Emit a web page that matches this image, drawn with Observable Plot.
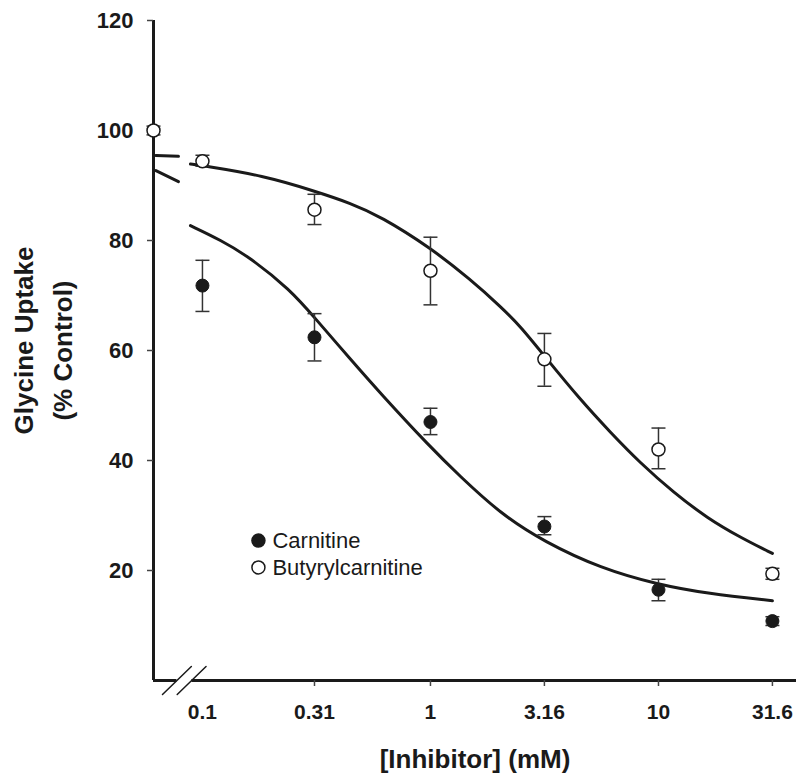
<!DOCTYPE html>
<html><head><meta charset="utf-8">
<script src="https://cdn.jsdelivr.net/npm/d3@7"></script>
<script src="https://cdn.jsdelivr.net/npm/@observablehq/plot@0.6"></script>
<style>body{margin:0;background:#fff} #chart{width:796px;height:779px}</style>
</head><body><div id="chart"></div>
<script>
// Concentrations (mM) and tick labels
const conc = [0.1, 0.31, 1, 3.16, 10, 31.6];
const concLabels = ["0.1", "0.31", "1", "3.16", "10", "31.6"];
const yTicks = [20, 40, 60, 80, 100, 120];
const controlConc = 0.061; // control (no inhibitor) plotted at axis origin

// Carnitine (filled)
const carnitineMean = [71.8, 62.4, 47.0, 28.0, 16.5, 10.8];
const carnitineLow  = [67.1, 58.1, 44.7, 26.5, 14.5, 10.0];
const carnitineHigh = [76.4, 66.7, 49.5, 29.8, 18.4, 11.6];

// Butyrylcarnitine (open)
const butyrylMean = [94.4, 85.6, 74.5, 58.4, 42.0, 19.4];
const butyrylLow  = [93.5, 82.9, 68.3, 53.5, 38.5, 18.4];
const butyrylHigh = [95.5, 88.4, 80.6, 63.1, 45.9, 20.4];

// Control
const controlMean = 100, controlLow = 99.2, controlHigh = 100.8;

// Fitted curves
const butyrylFitX = [0.0886, 0.1, 0.185, 0.31, 0.446, 0.6035, 1, 1.497, 2.03, 2.481, 3.16, 4.55, 6.16, 8.34, 11.64, 16.4, 22.9, 31.6];
const butyrylFitY = [93.9, 93.6, 91.8, 89.0, 86.8, 84.4, 78.7, 72.9, 68.0, 64.4, 59.0, 51.0, 45.1, 39.5, 34.2, 29.5, 26.0, 23.1];
const carnitineFitX = [0.0886, 0.12, 0.162, 0.243, 0.31, 0.446, 0.6035, 1, 1.327, 2.03, 3.16, 5.57, 10, 16.4, 31.6];
const carnitineFitY = [82.7, 80.1, 76.9, 71.0, 66.0, 58.4, 52.2, 42.4, 37.4, 30.3, 25.2, 20.4, 17.4, 15.8, 14.5];

// Short curve fragments next to the y axis
const fragX = [0.0625, 0.0785];
const upperFragY = [95.45, 95.3];
const lowerFragY = [92.7, 90.7];

// Axis break on x
const break1X = [0.0668, 0.0894];
const break2X = [0.0775, 0.1037];
const breakY = [-2.55, 2.55];
const axisSeg1 = [0.061, 0.0773];
const axisSeg2 = [0.0899, 40.3];

// Legend
const legendNames = ["Carnitine", "Butyrylcarnitine"];
const legendX = 0.176;
const legendY = [25.45, 20.55];

const toRows = (xs, m, lo, hi) => xs.map((x, i) => ({x, y: m[i], lo: lo[i], hi: hi[i]}));
const carn = toRows(conc, carnitineMean, carnitineLow, carnitineHigh);
const buty = toRows(conc, butyrylMean, butyrylLow, butyrylHigh);
const ctrl = [{x: controlConc, y: controlMean, lo: controlLow, hi: controlHigh}];
const allErr = [...carn, ...buty, ...ctrl];
const pts = (xs, ys) => xs.map((x, i) => ({x, y: ys[i]}));

const cap = {draw(ctx) { ctx.moveTo(-7, 0); ctx.lineTo(7, 0); }};
const ink = "#1a1a1a";
const font = "'Liberation Sans', Arial, sans-serif";

const chart = Plot.plot({
  width: 796, height: 779,
  marginLeft: 153, marginRight: 0, marginTop: 20, marginBottom: 99,
  x: {type: "log", domain: [0.061, 40.3]},
  y: {domain: [0, 120]},
  style: {fontFamily: font, background: "#fff", color: ink},
  marks: [
    // axes lines
    Plot.ruleX([0.061], {y1: 0, y2: 120, stroke: ink, strokeWidth: 3}),
    Plot.ruleY([0], {x1: axisSeg1[0], x2: axisSeg1[1], stroke: ink, strokeWidth: 3}),
    Plot.ruleY([0], {x1: axisSeg2[0], x2: axisSeg2[1], stroke: ink, strokeWidth: 3}),
    Plot.line(pts(break1X, breakY), {x: "x", y: "y", stroke: ink, strokeWidth: 1.5, clip: false}),
    Plot.line(pts(break2X, breakY), {x: "x", y: "y", stroke: ink, strokeWidth: 1.5, clip: false}),
    // axes ticks & labels
    Plot.axisY({ticks: yTicks, tickSize: 6, tickPadding: 14, fontSize: 22, fontWeight: "bold", label: null, stroke: "#444", strokeWidth: 1.5, fill: ink}),
    Plot.axisX({ticks: conc, tickFormat: d => concLabels[conc.indexOf(d)], tickSize: 0, tickPadding: 24, fontSize: 21, fontWeight: "bold", label: null, fill: ink}),
    Plot.axisX({ticks: conc.slice(1), tickFormat: () => "", tickSize: 6, label: null, stroke: "#444", strokeWidth: 1.5}),
    // fitted curves
    Plot.line(pts(butyrylFitX, butyrylFitY), {x: "x", y: "y", stroke: ink, strokeWidth: 3, curve: "basis"}),
    Plot.line(pts(carnitineFitX, carnitineFitY), {x: "x", y: "y", stroke: ink, strokeWidth: 3, curve: "basis"}),
    Plot.line(pts(fragX, upperFragY), {x: "x", y: "y", stroke: ink, strokeWidth: 3}),
    Plot.line(pts(fragX, lowerFragY), {x: "x", y: "y", stroke: ink, strokeWidth: 3}),
    // error bars
    Plot.ruleX(allErr, {x: "x", y1: "lo", y2: "hi", stroke: "#333", strokeWidth: 1.5}),
    Plot.dot(allErr, {x: "x", y: "lo", symbol: cap, stroke: "#333", strokeWidth: 1.5, fill: "none"}),
    Plot.dot(allErr, {x: "x", y: "hi", symbol: cap, stroke: "#333", strokeWidth: 1.5, fill: "none"}),
    // data points
    Plot.dot(carn, {x: "x", y: "y", r: 6.5, fill: ink, stroke: ink, strokeWidth: 1}),
    Plot.dot([...buty, ...ctrl], {x: "x", y: "y", r: 6.5, fill: "#fff", stroke: ink, strokeWidth: 1.5}),
    // legend
    Plot.dot([0], {x: () => legendX, y: () => legendY[0], r: 6.5, fill: ink, stroke: ink}),
    Plot.dot([0], {x: () => legendX, y: () => legendY[1], r: 6.5, fill: "#fff", stroke: ink, strokeWidth: 1.5}),
    Plot.text([0, 1], {x: () => legendX, y: i => legendY[i], text: i => legendNames[i], dx: 14, textAnchor: "start", fontSize: 22, fill: ink}),
    // titles
    Plot.text(["[Inhibitor] (mM)"], {text: d => d, frameAnchor: "bottom", dy: 79, fontSize: 26, fontWeight: "bold", textAnchor: "middle", lineAnchor: "middle", fill: ink}),
    Plot.text(["Glycine Uptake"], {text: d => d, frameAnchor: "left", dx: -129, dy: -10, rotate: -90, fontSize: 26, fontWeight: "bold", textAnchor: "middle", lineAnchor: "middle", fill: ink}),
    Plot.text(["(% Control)"], {text: d => d, frameAnchor: "left", dx: -90, dy: 0, rotate: -90, fontSize: 26, fontWeight: "bold", textAnchor: "middle", lineAnchor: "middle", fill: ink})
  ]
});
document.getElementById("chart").appendChild(chart);
</script>
</body></html>
